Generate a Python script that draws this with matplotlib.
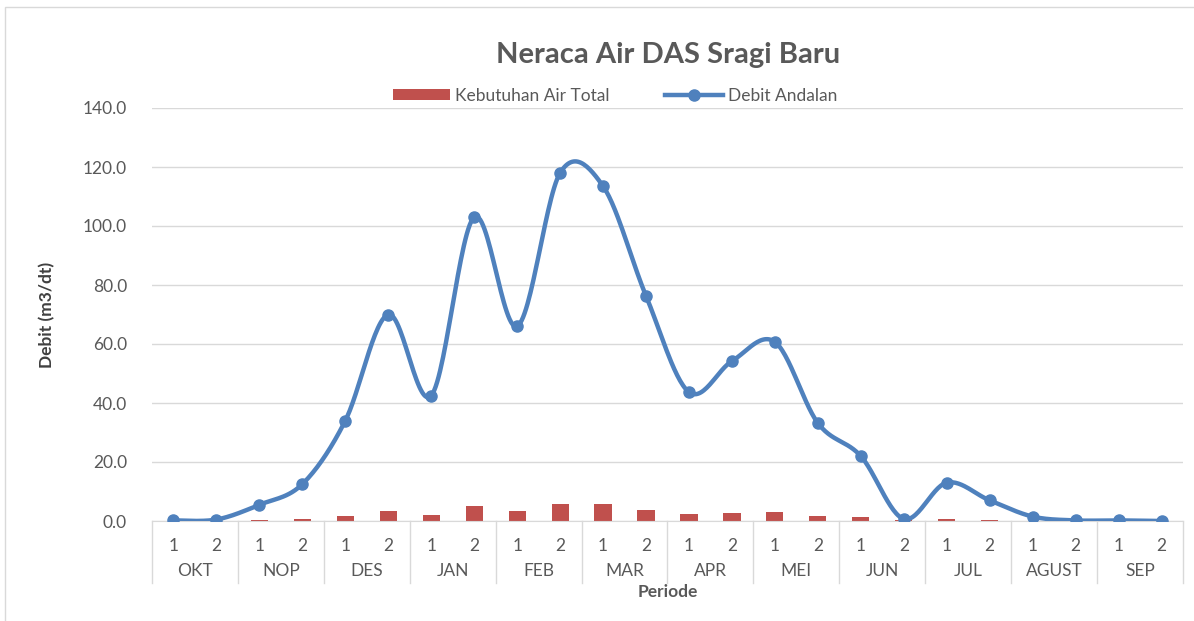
import matplotlib.pyplot as plt
import matplotlib.transforms as mtransforms
from matplotlib.patches import Rectangle
import numpy as np

plt.rcParams["font.family"] = ["Lato", "DejaVu Sans"]

MONTHS = ["OKT", "NOP", "DES", "JAN", "FEB", "MAR", "APR", "MEI", "JUN", "JUL", "AGUST", "SEP"]
HALVES = ["1", "2"]

# Kebutuhan Air Total (m3/dt), two periods per month
kebutuhan = [0.1, 0.1, 0.4, 0.6, 1.8, 3.5, 2.1, 5.0, 3.5, 5.8, 5.6, 3.8,
             2.4, 2.6, 3.2, 1.8, 1.2, 0.3, 0.6, 0.4, 0.1, 0.1, 0.1, 0.1]
# Debit Andalan (m3/dt)
debit = [0.2, 0.5, 5.5, 12.5, 34.0, 70.0, 42.5, 103.0, 66.0, 118.0, 113.5, 76.3,
         43.7, 54.2, 60.7, 33.2, 22.0, 0.7, 13.0, 7.0, 1.5, 0.2, 0.2, 0.0]

BAR_COLOR = "#C0504D"
LINE_COLOR = "#4F81BD"
TEXT_COLOR = "#595959"
GRID_COLOR = "#D9D9D9"


def smooth_curve(x, y, steps=30):
    # Bezier smoothing similar to spreadsheet "smoothed line"
    x = np.asarray(x, dtype=float)
    y = np.asarray(y, dtype=float)
    n = len(x)
    xs, ys = [], []
    for i in range(n - 1):
        p0 = np.array([x[max(i - 1, 0)], y[max(i - 1, 0)]])
        p1 = np.array([x[i], y[i]])
        p2 = np.array([x[i + 1], y[i + 1]])
        p3 = np.array([x[min(i + 2, n - 1)], y[min(i + 2, n - 1)]])
        c1 = p1 + (p2 - p0) / 6
        c2 = p2 - (p3 - p1) / 6
        t = np.linspace(0, 1, steps)[:, None]
        pts = ((1 - t) ** 3) * p1 + 3 * ((1 - t) ** 2) * t * c1 + 3 * (1 - t) * t ** 2 * c2 + t ** 3 * p2
        xs.extend(pts[:, 0])
        ys.extend(pts[:, 1])
    return np.array(xs), np.array(ys)


fig = plt.figure(figsize=(11.94, 6.21), dpi=100)
fig.patches.append(Rectangle((5 / 1194, 1 - 640 / 621), 1.2, 633 / 621,
                             transform=fig.transFigure, fill=False,
                             edgecolor="#D9D9D9", linewidth=1))
ax = fig.add_axes([152 / 1194, 1 - 521 / 621, 1031 / 1194, 413 / 621])

positions = np.arange(len(debit))
bars = ax.bar(positions, kebutuhan, width=0.4, color=BAR_COLOR, zorder=2)
sx, sy = smooth_curve(positions, debit)
ax.plot(sx, sy, color=LINE_COLOR, linewidth=3.2, zorder=3, solid_capstyle="round")
ax.plot(positions, debit, linestyle="none", marker="o", markersize=8,
        color=LINE_COLOR, zorder=4)
line_handle, = ax.plot([], [], color=LINE_COLOR, linewidth=3.2, marker="o", markersize=8)

ax.set_xlim(-0.5, len(debit) - 0.5)
ax.set_ylim(0, 140)
ax.set_yticks(np.arange(0, 141, 20))
ax.set_yticklabels([f"{v:.1f}" for v in np.arange(0, 141, 20)])
ax.tick_params(axis="y", length=0, pad=18, labelsize=12.5, labelcolor=TEXT_COLOR)
ax.grid(axis="y", color=GRID_COLOR, linewidth=1, zorder=0)
ax.set_axisbelow(True)
for side in ["left", "right", "top"]:
    ax.spines[side].set_visible(False)
ax.spines["bottom"].set_color(GRID_COLOR)

ax.set_xticks(positions)
ax.set_xticklabels(HALVES * len(MONTHS))
ax.tick_params(axis="x", length=0, pad=12, labelsize=12.5, labelcolor=TEXT_COLOR)

trans = mtransforms.blended_transform_factory(ax.transData, ax.transAxes)
for i, month in enumerate(MONTHS):
    ax.text(2 * i + 0.5, -0.122, month, transform=trans, ha="center", va="center",
            fontsize=12.5, color=TEXT_COLOR)
for b in np.arange(-0.5, len(debit), 2):
    ax.plot([b, b], [0, -0.15], transform=trans, color=GRID_COLOR, linewidth=1, clip_on=False)

ax.set_xlabel("Periode", fontsize=12.5, fontweight="bold", color=TEXT_COLOR, labelpad=22)
ax.set_ylabel("Debit (m3/dt)", fontsize=12.5, fontweight="bold", color="#404040", labelpad=20)

fig.text(668 / 1194, 1 - 55 / 621, "Neraca Air DAS Sragi Baru", ha="center", va="center",
         fontsize=21, fontweight="bold", color=TEXT_COLOR)
ax.legend([bars, line_handle], ["Kebutuhan Air Total", "Debit Andalan"],
          loc="center", bbox_to_anchor=(615 / 1194, 1 - 96 / 621), bbox_transform=fig.transFigure,
          ncol=2, frameon=False, fontsize=12.5, labelcolor=TEXT_COLOR, handlelength=3.3,
          handleheight=0.6, columnspacing=3.2, handletextpad=0.3)

fig.savefig("out.png", dpi=100)
